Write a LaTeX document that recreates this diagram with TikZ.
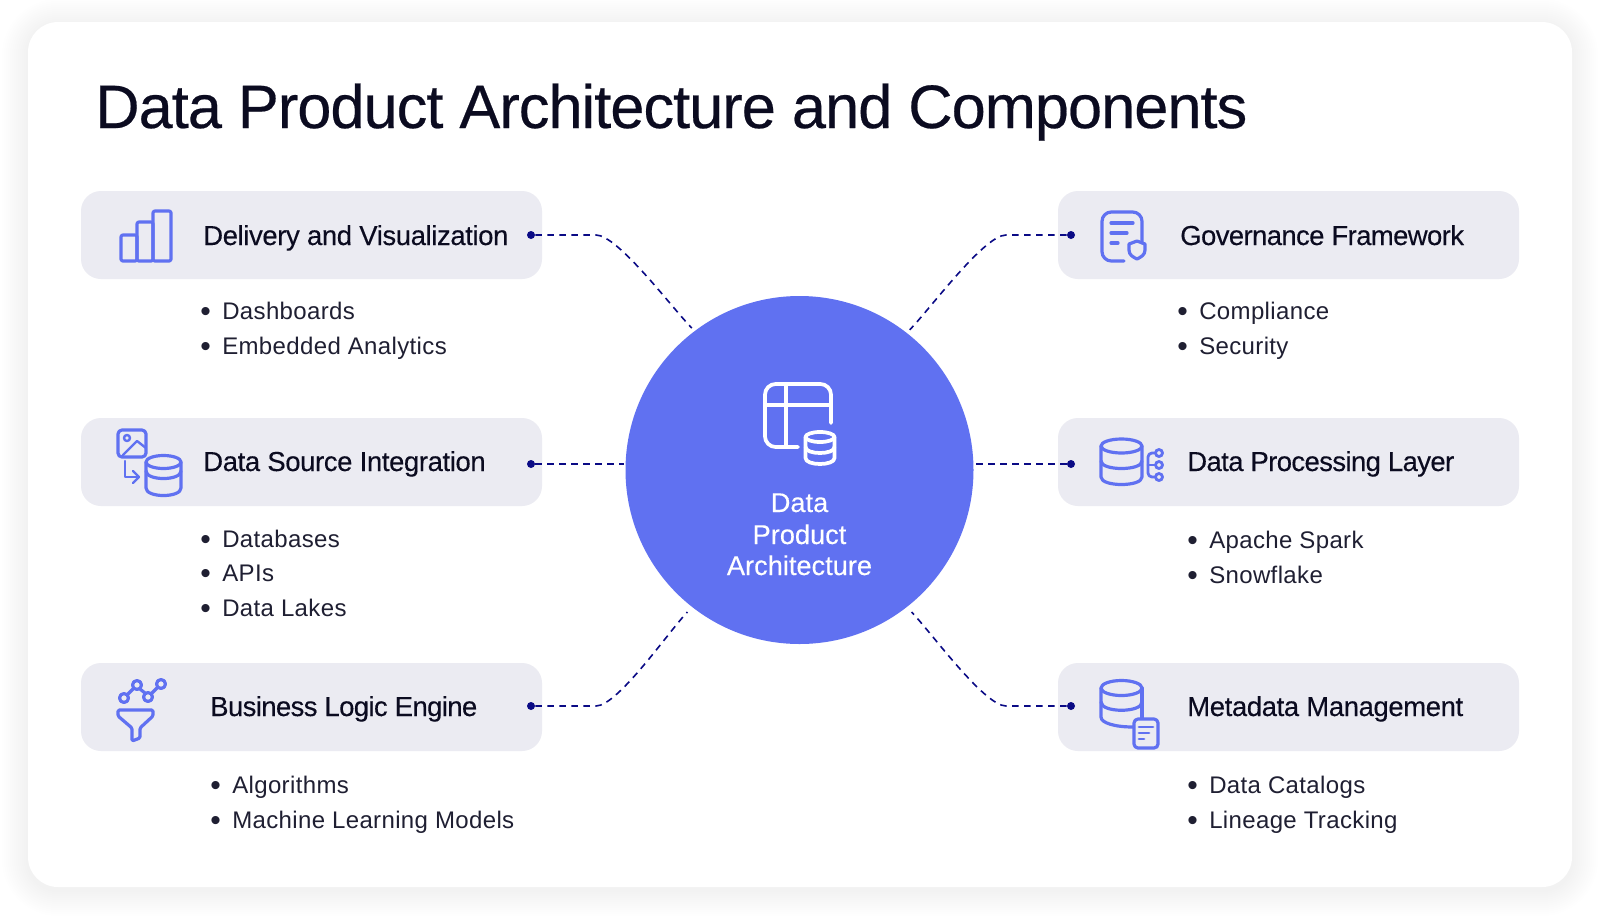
\documentclass[tikz,border=0pt]{standalone}
\usepackage{fontspec}
\setmainfont{Liberation Sans}
\newfontfamily\bulfont[LetterSpace=1.5]{Liberation Sans}
\newfontfamily\headfont[LetterSpace=-1.4,FakeBold=0.25]{Liberation Sans}
\newfontfamily\tightfont[LetterSpace=-2.2,FakeBold=0.25]{Liberation Sans}
\newfontfamily\titlefont[LetterSpace=-1.6,FakeBold=0.35]{Liberation Sans}
\newfontfamily\hubfont[FakeBold=0.2]{Liberation Sans}
\usetikzlibrary{calc}
\definecolor{indigo}{HTML}{6071F1}
\definecolor{boxgrey}{HTML}{EBEBF2}
\definecolor{ink}{HTML}{0B0B20}
\definecolor{navy2}{HTML}{0A0A85}
\newcommand{\bul}[1]{\makebox[16.5pt][l]{\raisebox{-1.6pt}{\scalebox{1.25}{\textbullet}}}#1}
\tikzset{
  x=0.75pt,y=-0.75pt,
  panel/.style={draw=none,fill=boxgrey,rounded corners=15pt,minimum width=345.75pt,minimum height=66pt,inner sep=0pt},
  hubnode/.style={circle,fill=indigo,minimum size=261pt,inner sep=0pt},
  dotnode/.style={circle,fill=navy2,minimum size=6pt,inner sep=0pt},
  heading/.style={anchor=base west,inner sep=0pt,font=\headfont\fontsize{20.6pt}{24pt}\selectfont,text=ink},
  headingtight/.style={heading,font=\tightfont\fontsize{20.6pt}{24pt}\selectfont},
  item/.style={anchor=base west,inner sep=0pt,font=\bulfont\fontsize{18pt}{22pt}\selectfont,text=ink!92},
  link/.style={navy2,line width=1.2pt,dash pattern=on 5pt off 4pt,shorten >=3pt},
  hubtext/.style={anchor=base,inner sep=0pt,text=white,font=\hubfont\fontsize{20.4pt}{24pt}\selectfont},
  ico/.style={indigo,line width=2.4pt,line cap=round,line join=round},
  icow/.style={white,line width=2.8pt,line cap=round,line join=round},
}
\begin{document}
\begin{tikzpicture}
\useasboundingbox (0,0) rectangle (1600,922);
\fill[white] (0,0) rectangle (1600,922);
% shadow
\foreach \s in {26,24,...,2}{
  \fill[black,opacity=0.0032,rounded corners=22.5pt+0.75pt*\s] (28-\s,22-\s+3) rectangle (1572+\s,887+\s+3);
}
\fill[white,rounded corners=22.5pt] (28,22) rectangle (1572,887);
% title
\node[anchor=base west,inner sep=0pt,font=\titlefont\fontsize{46pt}{50pt}\selectfont,text=ink] (title) at (95,128) {Data Product Architecture and Components};
% panels
\node[panel] (p1) at (311.5,235) {};
\node[panel] (p2) at (311.5,462) {};
\node[panel] (p3) at (311.5,707) {};
\node[panel] (p4) at (1288.5,235) {};
\node[panel] (p5) at (1288.5,462) {};
\node[panel] (p6) at (1288.5,707) {};
% hub
\node[hubnode] (hub) at (799.5,470) {};
% dots
\node[dotnode] (d1) at (531,235) {};
\node[dotnode] (d2) at (531,464) {};
\node[dotnode] (d3) at (531,706) {};
\node[dotnode] (d4) at (1071,235) {};
\node[dotnode] (d5) at (1071,464) {};
\node[dotnode] (d6) at (1071,706) {};
% connectors
\draw[link] (d1) -- ++(65,0) .. controls +(22,0) and +(-22,-22) .. (hub.127);
\draw[link,shorten >=5pt] (d3) -- ++(65,0) .. controls +(22,0) and +(-22,22) .. (hub.232);
\draw[link] (d4) -- ++(-65,0) .. controls +(-22,0) and +(22,-22) .. (hub.52);
\draw[link,shorten >=5pt] (d6) -- ++(-65,0) .. controls +(-22,0) and +(22,22) .. (hub.308);
\draw[link,shorten >=1pt] (d2) -- (hub.west |- d2);
\draw[link,shorten >=1pt] (d5) -- (hub.east |- d5);
% headings
\node[heading] (h1) at (203,245) {Delivery and Visualization};
\node[heading] (h2) at (203,471) {Data Source Integration};
\node[headingtight] (h3) at (210,716) {Business Logic Engine};
\node[headingtight] (h4) at (1180,245) {Governance Framework};
\node[headingtight] (h5) at (1187,471) {Data Processing Layer};
\node[heading] (h6) at (1187,716) {Metadata Management};
% lists
\node[item] (a1) at (200,319) {\bul{Dashboards}};
\node[item] (a2) at (200,354) {\bul{Embedded Analytics}};
\node[item] (b1) at (200,547) {\bul{Databases}};
\node[item] (b2) at (200,581) {\bul{APIs}};
\node[item] (b3) at (200,616) {\bul{Data Lakes}};
\node[item] (c1) at (210,793) {\bul{Algorithms}};
\node[item] (c2) at (210,828) {\bul{Machine Learning Models}};
\node[item] (e1) at (1177,319) {\bul{Compliance}};
\node[item] (e2) at (1177,354) {\bul{Security}};
\node[item] (f1) at (1187,548) {\bul{Apache Spark}};
\node[item] (f2) at (1187,583) {\bul{Snowflake}};
\node[item] (g1) at (1187,793) {\bul{Data Catalogs}};
\node[item] (g2) at (1187,828) {\bul{Lineage Tracking}};
% hub text
\node[hubtext] (t1) at (799.5,512) {Data};
\node[hubtext] (t2) at (799.5,544) {Product};
\node[hubtext] (t3) at (799.5,575) {Architecture};
% icon: bars
\draw[ico,rounded corners=1.5pt] (121,261) rectangle (137,235);
\draw[ico,rounded corners=1.5pt] (137,261) rectangle (153,222);
\draw[ico,rounded corners=1.5pt] (153,261) rectangle (171,211);
% icon: image to db
\draw[ico,rounded corners=3pt] (118,430) rectangle (146,457);
\draw[ico,line width=1.8pt] (127,438) circle (3);
\draw[ico,line width=1.8pt] (123,455) -- (137,441) -- (146,448);
\draw[ico,line width=1.8pt] (125,461) -- (125,477) -- (139,477);
\draw[ico,line width=1.8pt] (133,471) -- (139,477) -- (133,483);
\draw[ico] (163.5,462) ellipse (17.5 and 6.5);
\draw[ico] (146,462) -- (146,488) .. controls (146,498) and (181,498) .. (181,488) -- (181,462);
\draw[ico] (146,471) .. controls (146,481) and (181,481) .. (181,471);
% icon: funnel
\draw[ico] (124,698) circle (4.5) (137,685) circle (4.5) (148,697) circle (4.5) (161,684) circle (4.5);
\draw[ico] (127.5,694.5) -- (133.5,688.5) (140,689) -- (145,693) (151.5,693.5) -- (157.5,687.5);
\draw[ico,rounded corners=1pt] (118,710) -- (118,716) -- (132,728) -- (132,741) -- (140,738) -- (140,728) -- (153,716) -- (153,710) -- cycle;
% icon: doc shield
\draw[ico,rounded corners=7pt] (1142,243) -- (1142,212) -- (1102,212) -- (1102,261) -- (1124,261);
\draw[ico] (1111,223) -- (1133,223) (1111,233) -- (1127,233) (1111,243) -- (1118,243);
\draw[ico] (1137,241) -- (1145,244) -- (1145,250) .. controls (1145,255) and (1141,257) .. (1137,259) .. controls (1133,257) and (1129,255) .. (1129,250) -- (1129,244) -- cycle;
% icon: db tree
\draw[ico] (1121.5,446) ellipse (20.5 and 7);
\draw[ico] (1101,446) -- (1101,477) .. controls (1101,487) and (1142,487) .. (1142,477) -- (1142,446);
\draw[ico] (1101,461) .. controls (1101,471) and (1142,471) .. (1142,461);
\draw[ico,line width=2.1pt] (1159,453) circle (3.5) (1159,465) circle (3.5) (1159,477) circle (3.5);
\draw[ico,line width=2.1pt] (1148,465) -- (1155,465);
\draw[ico,line width=2.1pt,rounded corners=3pt] (1155,453) -- (1148,453) -- (1148,477) -- (1155,477);
% icon: db doc
\draw[ico] (1121.5,688) ellipse (20.5 and 7.5);
\draw[ico] (1142,688) -- (1142,718);
\draw[ico] (1101,688) -- (1101,717) .. controls (1101,723) and (1115,727) .. (1133,727);
\draw[ico] (1101,702) .. controls (1101,713) and (1142,713) .. (1142,702);
\draw[ico,rounded corners=3pt] (1134,719) rectangle (1158,748);
\draw[ico,line width=2.1pt] (1139,727) -- (1153,727) (1139,733) -- (1149,733) (1139,739) -- (1144,739);
% icon: central table
\draw[icow,rounded corners=8pt] (831,423) -- (831,384) -- (765,384) -- (765,447) -- (798,447);
\draw[icow] (765,405) -- (831,405) (786,384) -- (786,447);
\draw[icow] (820,437) ellipse (14.5 and 5);
\draw[icow] (805.5,437) -- (805.5,458) .. controls (805.5,466) and (834.5,466) .. (834.5,458) -- (834.5,437);
\draw[icow] (805.5,447) .. controls (805.5,455) and (834.5,455) .. (834.5,447);
\end{tikzpicture}
\end{document}
